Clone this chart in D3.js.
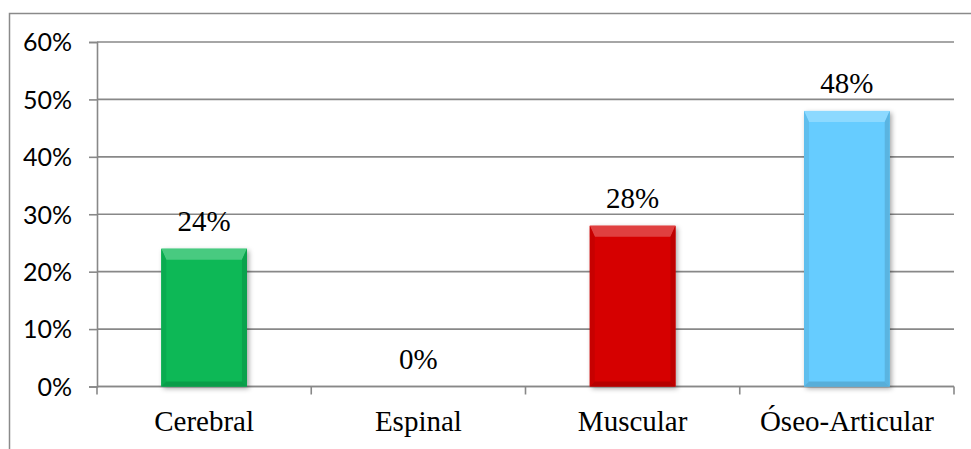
<!DOCTYPE html>
<html>
<head>
<meta charset="utf-8">
<script src="https://cdn.jsdelivr.net/npm/d3@7"></script>
<style>
  html, body { margin: 0; padding: 0; background: #ffffff; }
  svg { display: block; }
</style>
</head>
<body>
<svg id="chart" width="971" height="449"></svg>
<script>
// Distribution by type (percent)
const categories = ["Cerebral", "Espinal", "Muscular", "Óseo-Articular"];
const values = [24, 0, 28, 48];
const barColors = ["#0BB856", "#0BB856", "#D60000", "#66CCFF"];
const yTicks = [0, 10, 20, 30, 40, 50, 60];
const yTickLabels = ["0%", "10%", "20%", "30%", "40%", "50%", "60%"];

const svg = d3.select("#chart");
const plotLeft = 97, plotRight = 954, plotTop = 42, plotBottom = 386.5;
const serif = "'Liberation Serif', 'Times New Roman', Times, serif";

// outer frame of the chart area (runs off the right and bottom edges)
svg.append("rect")
  .attr("x", 9.5).attr("y", 13.5)
  .attr("width", 1000).attr("height", 1000)
  .attr("fill", "none").attr("stroke", "#8a8a8a").attr("stroke-width", 1.5);

const x = d3.scaleBand().domain(categories).range([plotLeft, plotRight])
  .paddingInner(0.6).paddingOuter(0.3);
const y = d3.scaleLinear().domain([0, 60]).range([plotBottom, plotTop]);

// horizontal gridlines
svg.append("g").selectAll("line").data(yTicks).join("line")
  .attr("x1", plotLeft).attr("x2", plotRight)
  .attr("y1", d => y(d)).attr("y2", d => y(d))
  .attr("stroke", "#888888").attr("stroke-width", 1.6);

// y axis
const yAxis = d3.axisLeft(y).tickValues(yTicks)
  .tickFormat((d, i) => yTickLabels[i]).tickSize(8).tickPadding(17);
const gy = svg.append("g").attr("transform", `translate(${plotLeft},0)`).call(yAxis);
gy.select(".domain").attr("stroke", "#888888").attr("stroke-width", 1.6);
gy.selectAll(".tick line").attr("stroke", "#888888").attr("stroke-width", 1.6);
gy.selectAll(".tick text")
  .attr("font-family", "Lato, 'Open Sans', sans-serif")
  .attr("font-size", 25).attr("fill", "#000").attr("dy", "0.35em");

// x axis baseline with category boundary ticks
svg.append("line").attr("x1", plotLeft).attr("x2", plotRight)
  .attr("y1", plotBottom).attr("y2", plotBottom)
  .attr("stroke", "#888888").attr("stroke-width", 1.6);
const boundaries = categories.map((c, i) => plotLeft + i * x.step());
boundaries.push(plotRight);
svg.append("g").selectAll("line").data(boundaries).join("line")
  .attr("x1", d => d).attr("x2", d => d)
  .attr("y1", plotBottom).attr("y2", plotBottom + 8)
  .attr("stroke", "#888888").attr("stroke-width", 1.6);

// category labels
svg.append("g").selectAll("text").data(categories).join("text")
  .attr("x", d => x(d) + x.bandwidth() / 2).attr("y", 431)
  .attr("text-anchor", "middle")
  .style("font-family", serif)
  .attr("font-size", 29).attr("fill", "#000")
  .text(d => d);

// bars with bevel and soft shadow
const defs = svg.append("defs");
defs.append("filter").attr("id", "shadow")
  .attr("x", "-20%").attr("y", "-20%").attr("width", "140%").attr("height", "140%")
  .append("feDropShadow").attr("dx", 2).attr("dy", 2)
  .attr("stdDeviation", 2.5).attr("flood-color", "#000").attr("flood-opacity", 0.35);

const bars = svg.append("g");
categories.forEach((c, i) => {
  const v = values[i];
  if (v <= 0) return;
  const x0 = x(c), x1 = x0 + x.bandwidth();
  const y0 = y(v), y1 = y(0);
  const col = d3.color(barColors[i]);
  const b = 11, s = 5;
  const g = bars.append("g");
  g.append("rect").attr("x", x0).attr("y", y0)
    .attr("width", x1 - x0).attr("height", y1 - y0)
    .attr("fill", col).attr("filter", "url(#shadow)");
  // top bevel (lighter)
  g.append("polygon")
    .attr("points", [[x0, y0], [x1, y0], [x1 - s, y0 + b], [x0 + s, y0 + b]].join(" "))
    .attr("fill", d3.interpolateRgb(col, "#ffffff")(0.25));
  // side bevels (slightly darker)
  g.append("polygon")
    .attr("points", [[x0, y0], [x0 + s, y0 + b], [x0 + s, y1 - s], [x0, y1]].join(" "))
    .attr("fill", col.darker(0.2));
  g.append("polygon")
    .attr("points", [[x1, y0], [x1 - s, y0 + b], [x1 - s, y1 - s], [x1, y1]].join(" "))
    .attr("fill", col.darker(0.35));
  // bottom bevel (darker)
  g.append("polygon")
    .attr("points", [[x0, y1], [x0 + s, y1 - s], [x1 - s, y1 - s], [x1, y1]].join(" "))
    .attr("fill", col.darker(0.45));
});

// value labels
svg.append("g").selectAll("text").data(categories).join("text")
  .attr("x", d => x(d) + x.bandwidth() / 2)
  .attr("y", (d, i) => y(values[i]) - 18)
  .attr("text-anchor", "middle")
  .style("font-family", serif)
  .attr("font-size", 29).attr("fill", "#000")
  .text((d, i) => values[i] + "%");
</script>
</body>
</html>
